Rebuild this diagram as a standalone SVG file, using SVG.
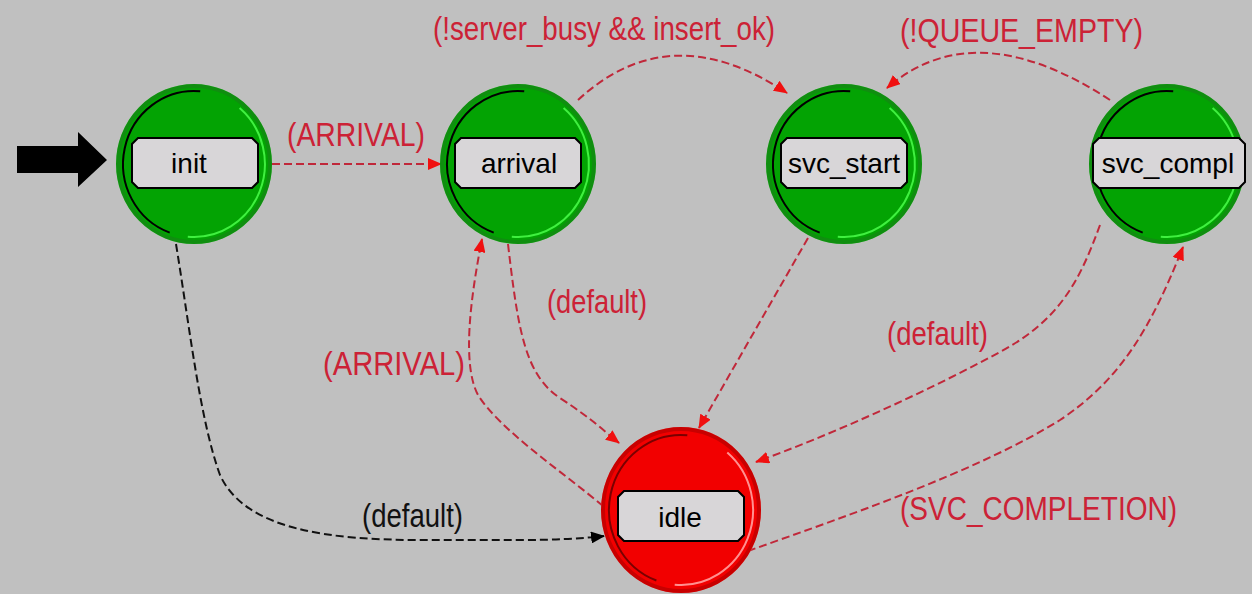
<svg xmlns="http://www.w3.org/2000/svg" width="1252" height="594" viewBox="0 0 1252 594">
<style>
.bg{fill:#c0c0c0}
.box{fill:#d8d6d8;stroke:#000;stroke-width:2}
.ntext{font-family:"Liberation Sans",Arial,sans-serif;font-size:28px;fill:#000;text-anchor:middle}
.lbl{font-family:"Liberation Sans",Arial,sans-serif;font-size:33px;fill:#cc2236}
.lbl.blk{fill:#111}
.edge{fill:none;stroke:#c0283a;stroke-width:2;stroke-dasharray:8 4}
.edge.blk{stroke:#111}
</style>
<defs>
<marker id="arR" viewBox="0 0 14 12" refX="13" refY="6" markerWidth="14" markerHeight="12" orient="auto" markerUnits="userSpaceOnUse">
<path d="M0,0 L14,6 L0,12 z" fill="#f01010"/>
</marker>
<marker id="arK" viewBox="0 0 14 12" refX="13" refY="6" markerWidth="14" markerHeight="12" orient="auto" markerUnits="userSpaceOnUse">
<path d="M0,0 L14,6 L0,12 z" fill="#000"/>
</marker>
<g id="gState">
<ellipse cx="0" cy="0" rx="78" ry="80" fill="#7ad87a"/>
<ellipse cx="0" cy="0" rx="76" ry="78" fill="#03a303" stroke="#108e10" stroke-width="4"/>
<path d="M6.2,-72.7 A71,73 0 0 0 -24.3,68.6" fill="none" stroke="#000" stroke-width="2"/>
<path d="M45.6,-55.9 A71,73 0 0 1 -6.2,72.7" fill="none" stroke="#40f040" stroke-width="2"/>
</g>
<g id="rState">
<ellipse cx="0" cy="0" rx="80" ry="83" fill="#f07070"/>
<ellipse cx="0" cy="0" rx="78" ry="81" fill="#f20000" stroke="#c80000" stroke-width="4"/>
<path d="M6.3,-74.7 A72,75 0 0 0 -24.6,70.5" fill="none" stroke="#7a0000" stroke-width="2"/>
<path d="M46.3,-57.5 A72,75 0 0 1 -6.3,74.7" fill="none" stroke="#ff9090" stroke-width="2"/>
</g>
<polygon id="box" points="-57,-25 57,-25 63,-19 63,19 57,25 -57,25 -63,19 -63,-19"/>
</defs>
<rect class="bg" x="0" y="0" width="1252" height="594"/>

<g id="start-arrow">
<polygon points="17,146 78,146 78,132 107,160 78,187 78,173 17,173" fill="#000"/>
</g>

<g id="connectors">
<path class="edge" d="M272 164 L441 164" marker-end="url(#arR)"/>
<path class="edge" d="M578 100 Q 670 15 787 93" marker-end="url(#arR)"/>
<path class="edge" d="M1110 100 Q 975 12 887 88" marker-end="url(#arR)"/>
<path class="edge" d="M508 244 C 518 330 525 375 560 398 S 605 432 619 443" marker-end="url(#arR)"/>
<path class="edge" d="M603 506 C 560 470 500 430 478 395 C 462 365 470 300 482 239" marker-end="url(#arR)"/>
<path class="edge blk" d="M176 244 C 190 330 200 420 220 475 C 245 530 330 540 420 540 L 520 540 Q 570 540 604 536" marker-end="url(#arK)"/>
<path class="edge" d="M808 238 L 699 428" marker-end="url(#arR)"/>
<path class="edge" d="M1100 225 C 1080 280 1060 320 1000 352 C 920 395 830 435 756 462" marker-end="url(#arR)"/>
<path class="edge" d="M748 551 C 850 515 980 470 1060 420 C 1120 380 1150 330 1183 247" marker-end="url(#arR)"/>

<text class="lbl" x="287" y="146" textLength="138" lengthAdjust="spacingAndGlyphs">(ARRIVAL)</text>
<text class="lbl" x="433" y="40" textLength="342" lengthAdjust="spacingAndGlyphs">(!server_busy &amp;&amp; insert_ok)</text>
<text class="lbl" x="900" y="42" textLength="243" lengthAdjust="spacingAndGlyphs">(!QUEUE_EMPTY)</text>
<text class="lbl" x="547" y="313" textLength="100" lengthAdjust="spacingAndGlyphs">(default)</text>
<text class="lbl" x="323" y="375" textLength="142" lengthAdjust="spacingAndGlyphs">(ARRIVAL)</text>
<text class="lbl blk" x="362" y="527" textLength="101" lengthAdjust="spacingAndGlyphs">(default)</text>
<text class="lbl" x="887" y="345" textLength="101" lengthAdjust="spacingAndGlyphs">(default)</text>
<text class="lbl" x="900" y="520" textLength="277" lengthAdjust="spacingAndGlyphs">(SVC_COMPLETION)</text>
</g>

<g id="init">
<use href="#gState" x="194" y="164"/>
<use href="#box" class="box" x="195" y="163"/>
<text class="ntext" x="189" y="173">init</text>
</g>
<g id="arrival">
<use href="#gState" x="518" y="164"/>
<use href="#box" class="box" x="518" y="163"/>
<text class="ntext" x="519" y="173">arrival</text>
</g>
<g id="svc_start">
<use href="#gState" x="844" y="164"/>
<use href="#box" class="box" x="844" y="163"/>
<text class="ntext" x="844" y="173">svc_start</text>
</g>
<g id="svc_compl">
<use href="#gState" x="1167" y="164"/>
<polygon class="box" points="1099,138 1239,138 1245,144 1245,182 1239,188 1099,188 1093,182 1093,144"/>
<text class="ntext" x="1168" y="173">svc_compl</text>
</g>
<g id="idle">
<use href="#rState" x="681" y="510"/>
<use href="#box" class="box" x="681" y="516"/>
<text class="ntext" x="680" y="527">idle</text>
</g>
</svg>
